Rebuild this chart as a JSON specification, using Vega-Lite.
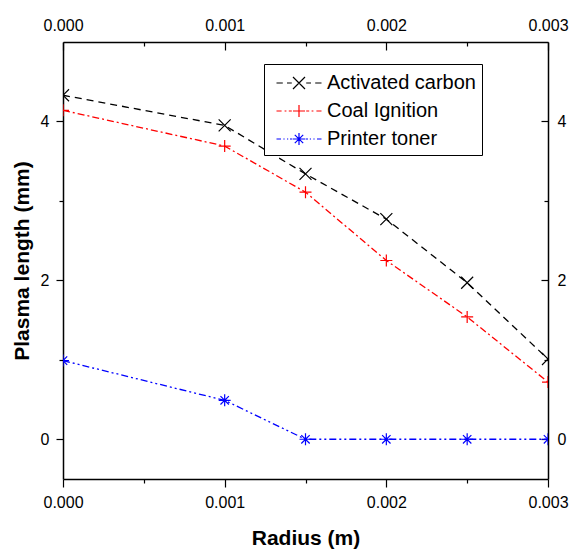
{
  "$schema": "https://vega.github.io/schema/vega-lite/v6.json",
  "width": 485,
  "height": 437,
  "autosize": {"type": "none"},
  "padding": {"left": 63, "top": 42, "right": 24, "bottom": 73},
  "background": "white",
  "config": {
    "font": "Liberation Sans",
    "view": {"stroke": null},
    "axis": {"grid": false, "domainColor": "#000000", "domainWidth": 1.5, "tickColor": "#000000", "tickWidth": 1.2, "labelColor": "#000000", "labelFont": "Liberation Sans", "labelFontSize": 16, "titleFont": "Liberation Sans", "titleFontSize": 21, "titleFontWeight": "bold", "titleColor": "#000000", "labelFlush": false, "labelOverlap": false}
  },
  "data": {"values": [
    {"r": 0.0, "v": 4.33, "s": "Activated carbon"},
    {"r": 0.001, "v": 3.95, "s": "Activated carbon"},
    {"r": 0.0015, "v": 3.34, "s": "Activated carbon"},
    {"r": 0.002, "v": 2.77, "s": "Activated carbon"},
    {"r": 0.0025, "v": 1.97, "s": "Activated carbon"},
    {"r": 0.003, "v": 1.01, "s": "Activated carbon"},
    {"r": 0.0, "v": 4.14, "s": "Coal Ignition"},
    {"r": 0.001, "v": 3.69, "s": "Coal Ignition"},
    {"r": 0.0015, "v": 3.11, "s": "Coal Ignition"},
    {"r": 0.002, "v": 2.25, "s": "Coal Ignition"},
    {"r": 0.0025, "v": 1.54, "s": "Coal Ignition"},
    {"r": 0.003, "v": 0.72, "s": "Coal Ignition"},
    {"r": 0.0, "v": 0.99, "s": "Printer toner"},
    {"r": 0.001, "v": 0.49, "s": "Printer toner"},
    {"r": 0.0015, "v": 0.0, "s": "Printer toner"},
    {"r": 0.002, "v": 0.0, "s": "Printer toner"},
    {"r": 0.0025, "v": 0.0, "s": "Printer toner"},
    {"r": 0.003, "v": 0.0, "s": "Printer toner"}
  ]},
  "layer": [
    {
      "transform": [{"filter": "datum.s == 'Activated carbon'"}],
      "mark": {"type": "line", "strokeWidth": 1.3, "color": "#000000", "strokeDash": [7, 5], "clip": true},
      "encoding": {
        "x": {"field": "r", "type": "quantitative", "scale": {"domain": [0, 0.003], "nice": false, "zero": false},
          "axis": {"orient": "bottom", "title": "Radius (m)", "values": [0, 0.0005, 0.001, 0.0015, 0.002, 0.0025, 0.003],
            "labelExpr": "abs(datum.value*1000 - round(datum.value*1000)) < 1e-6 ? format(datum.value, '.3f') : ''",
            "tickSize": {"condition": {"test": "abs(datum.value*1000 - round(datum.value*1000)) < 1e-6", "value": 8}, "value": 4},
            "labelPadding": 7, "titlePadding": 17}},
        "y": {"field": "v", "type": "quantitative", "scale": {"domain": [-0.5, 5], "nice": false, "zero": false},
          "axis": {"orient": "left", "title": "Plasma length (mm)", "values": [0, 1, 2, 3, 4],
            "labelExpr": "datum.value % 2 == 0 ? format(datum.value, 'd') : ''",
            "tickSize": {"condition": {"test": "datum.value % 2 == 0", "value": 7}, "value": 4},
            "labelPadding": 7, "titlePadding": 8}}
      }
    },
    {
      "transform": [{"filter": "datum.s == 'Coal Ignition'"}],
      "mark": {"type": "line", "strokeWidth": 1.3, "color": "#ff0000", "strokeDash": [7, 3, 2, 3], "clip": true},
      "encoding": {
        "x": {"field": "r", "type": "quantitative", "axis": null},
        "y": {"field": "v", "type": "quantitative", "axis": null}
      }
    },
    {
      "transform": [{"filter": "datum.s == 'Printer toner'"}],
      "mark": {"type": "line", "strokeWidth": 1.3, "color": "#0000ff", "strokeDash": [7, 3, 2, 3, 2, 3], "clip": true},
      "encoding": {
        "x": {"field": "r", "type": "quantitative", "axis": null},
        "y": {"field": "v", "type": "quantitative", "axis": null}
      }
    },
    {
      "transform": [{"filter": "datum.s == 'Activated carbon'"}],
      "mark": {"type": "point", "shape": "M-1,-1L1,1M-1,1L1,-1", "size": 144, "filled": false, "color": "#000000", "strokeWidth": 1.2, "opacity": 1, "clip": true},
      "encoding": {
        "x": {"field": "r", "type": "quantitative",
          "axis": {"orient": "top", "title": null, "values": [0, 0.0005, 0.001, 0.0015, 0.002, 0.0025, 0.003],
            "labelExpr": "abs(datum.value*1000 - round(datum.value*1000)) < 1e-6 ? format(datum.value, '.3f') : ''",
            "tickSize": {"condition": {"test": "abs(datum.value*1000 - round(datum.value*1000)) < 1e-6", "value": -8}, "value": -4},
            "labelPadding": 17}},
        "y": {"field": "v", "type": "quantitative",
          "axis": {"orient": "right", "title": null, "values": [0, 1, 2, 3, 4],
            "labelExpr": "datum.value % 2 == 0 ? format(datum.value, 'd') : ''",
            "tickSize": {"condition": {"test": "datum.value % 2 == 0", "value": -7}, "value": -4},
            "labelPadding": 16}}
      }
    },
    {
      "transform": [{"filter": "datum.s == 'Coal Ignition'"}],
      "mark": {"type": "point", "shape": "M-1,0L1,0M0,-1L0,1", "size": 144, "filled": false, "color": "#ff0000", "strokeWidth": 1.2, "opacity": 1, "clip": true},
      "encoding": {
        "x": {"field": "r", "type": "quantitative", "axis": null},
        "y": {"field": "v", "type": "quantitative", "axis": null}
      }
    },
    {
      "transform": [{"filter": "datum.s == 'Printer toner'"}],
      "mark": {"type": "point", "shape": "M-1,0L1,0M0,-1L0,1M-0.7,-0.7L0.7,0.7M-0.7,0.7L0.7,-0.7", "size": 144, "filled": false, "color": "#0000ff", "strokeWidth": 1.2, "opacity": 1, "clip": true},
      "encoding": {
        "x": {"field": "r", "type": "quantitative", "axis": null},
        "y": {"field": "v", "type": "quantitative", "axis": null}
      }
    },
    {
      "mark": {"type": "point", "size": 576, "filled": false, "strokeWidth": 1.2, "opacity": 0},
      "encoding": {
        "x": {"field": "r", "type": "quantitative", "axis": null},
        "y": {"field": "v", "type": "quantitative", "axis": null},
        "color": {"field": "s", "type": "nominal",
          "scale": {"domain": ["Activated carbon", "Coal Ignition", "Printer toner"], "range": ["#000000", "#ff0000", "#0000ff"]},
          "legend": {"title": null, "orient": "none", "legendX": 201, "legendY": 22, "padding": 6, "strokeColor": "#000000", "fillColor": "#ffffff",
            "labelFontSize": 20, "labelFont": "Liberation Sans", "labelColor": "#000000", "symbolSize": 576, "symbolStrokeWidth": 1.2, "symbolOpacity": 1, "symbolOffset": 16, "labelOffset": 15, "rowPadding": 5}},
        "shape": {"field": "s", "type": "nominal",
          "scale": {"domain": ["Activated carbon", "Coal Ignition", "Printer toner"], "range": [
            "M-1.875,0L-1.35,0M-1.0,0L-0.6,0M-0.5,-0.5L0.5,0.5M-0.5,0.5L0.5,-0.5M0.6,0L1.0,0M1.35,0L1.875,0",
            "M-1.875,0L-1.45,0M-1.2,0L-1.05,0M-0.85,0L-0.6,0M-0.5,0L0.5,0M0,-0.5L0,0.5M0.6,0L0.85,0M1.05,0L1.2,0M1.45,0L1.875,0",
            "M-1.875,0L-1.5,0M-1.3,0L-1.2,0M-1.0,0L-0.9,0M-0.75,0L-0.55,0M-0.5,0L0.5,0M0,-0.5L0,0.5M-0.35,-0.35L0.35,0.35M-0.35,0.35L0.35,-0.35M0.55,0L0.75,0M0.9,0L1.0,0M1.2,0L1.3,0M1.5,0L1.875,0"
          ]},
          "legend": {"title": null, "orient": "none", "legendX": 201, "legendY": 22, "padding": 6, "strokeColor": "#000000", "fillColor": "#ffffff",
            "labelFontSize": 20, "labelFont": "Liberation Sans", "labelColor": "#000000", "symbolSize": 576, "symbolStrokeWidth": 1.2, "symbolOpacity": 1, "symbolOffset": 16, "labelOffset": 15, "rowPadding": 5}}
      }
    }
  ]
}
